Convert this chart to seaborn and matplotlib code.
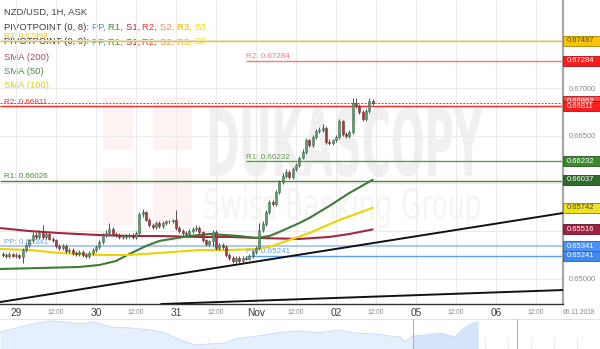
import matplotlib
matplotlib.use("Agg")
import numpy as np
import pandas as pd
import matplotlib.pyplot as plt
import seaborn as sns
from matplotlib.patches import Rectangle, PathPatch
from matplotlib.textpath import TextPath
from matplotlib.font_manager import FontProperties
from matplotlib.transforms import Affine2D, blended_transform_factory

# ---------------- data ----------------
bar_start = -4          # hour index of first candle (0 = 29 Oct 00:00)
first_open = 0.6526
close = [
    0.6525, 0.6524, 0.6526, 0.6524, 0.6525, 0.6523, 0.6530, 0.6535, 0.6540, 0.6546,
    0.6544, 0.6548, 0.6544, 0.6547, 0.6542, 0.6540, 0.6534, 0.6532, 0.6534, 0.6529,
    0.6530, 0.6527, 0.6526, 0.6528, 0.6525, 0.6524, 0.6527, 0.6530, 0.6533, 0.6538,
    0.6546, 0.6548, 0.6552, 0.6547, 0.6546, 0.6544, 0.6544, 0.6545, 0.6546, 0.6544,
    0.6548, 0.6568, 0.6570, 0.6562, 0.6556, 0.6554, 0.6558, 0.6555, 0.6558, 0.6560,
    0.6560, 0.6561, 0.6553, 0.6550, 0.6548, 0.6547, 0.6550, 0.6552, 0.6553, 0.6549,
    0.6540, 0.6536, 0.6539, 0.6549, 0.6532, 0.6535, 0.6533, 0.6525, 0.6522, 0.6518,
    0.6522, 0.6518, 0.6522, 0.6521, 0.6524, 0.6528, 0.6532, 0.6551, 0.6557, 0.6570,
    0.6580, 0.6578, 0.6591, 0.6601, 0.6608, 0.6612, 0.6607, 0.6615, 0.6619, 0.6627,
    0.6633, 0.6645, 0.6640, 0.6649, 0.6655, 0.6656, 0.6658, 0.6643, 0.6642, 0.6645,
    0.6649, 0.6665, 0.6652, 0.6650, 0.6654, 0.6684, 0.6681, 0.6675, 0.6667, 0.6676,
    0.6686, 0.6684,
]
high = [
    0.6528, 0.6527, 0.6528, 0.6527, 0.6527, 0.6526, 0.6532, 0.6537, 0.6542, 0.6549,
    0.6549, 0.6551, 0.6556, 0.6549, 0.6549, 0.6544, 0.6542, 0.6536, 0.6536, 0.6536,
    0.6532, 0.6532, 0.6529, 0.6530, 0.6530, 0.6527, 0.6529, 0.6532, 0.6535, 0.6540,
    0.6548, 0.6551, 0.6558, 0.6554, 0.6549, 0.6548, 0.6546, 0.6547, 0.6548, 0.6548,
    0.6550, 0.6570, 0.6573, 0.6571, 0.6564, 0.6558, 0.6560, 0.6560, 0.6560, 0.6562,
    0.6562, 0.6563, 0.6572, 0.6555, 0.6552, 0.6550, 0.6552, 0.6554, 0.6556, 0.6555,
    0.6550, 0.6542, 0.6541, 0.6551, 0.6551, 0.6537, 0.6537, 0.6535, 0.6527, 0.6524,
    0.6524, 0.6524, 0.6524, 0.6524, 0.6526, 0.6530, 0.6534, 0.6558, 0.6560, 0.6572,
    0.6582, 0.6583, 0.6593, 0.6603, 0.6611, 0.6615, 0.6614, 0.6617, 0.6621, 0.6629,
    0.6636, 0.6648, 0.6647, 0.6651, 0.6657, 0.6659, 0.6662, 0.6660, 0.6646, 0.6647,
    0.6651, 0.6667, 0.6666, 0.6654, 0.6656, 0.6690, 0.6690, 0.6683, 0.6677, 0.6678,
    0.6690, 0.6688,
]
low = [
    0.6523, 0.6522, 0.6522, 0.6523, 0.6522, 0.6521, 0.6516, 0.6528, 0.6533, 0.6538,
    0.6542, 0.6542, 0.6542, 0.6542, 0.6540, 0.6538, 0.6532, 0.6530, 0.6530, 0.6527,
    0.6527, 0.6525, 0.6524, 0.6524, 0.6523, 0.6522, 0.6522, 0.6525, 0.6528, 0.6531,
    0.6536, 0.6544, 0.6546, 0.6545, 0.6544, 0.6542, 0.6542, 0.6542, 0.6543, 0.6542,
    0.6542, 0.6546, 0.6565, 0.6560, 0.6554, 0.6552, 0.6552, 0.6553, 0.6553, 0.6556,
    0.6558, 0.6558, 0.6551, 0.6548, 0.6546, 0.6545, 0.6545, 0.6548, 0.6550, 0.6547,
    0.6538, 0.6534, 0.6534, 0.6534, 0.6530, 0.6530, 0.6531, 0.6523, 0.6520, 0.6516,
    0.6516, 0.6516, 0.6516, 0.6519, 0.6519, 0.6522, 0.6526, 0.6530, 0.6549, 0.6555,
    0.6568, 0.6576, 0.6576, 0.6589, 0.6599, 0.6606, 0.6605, 0.6605, 0.6613, 0.6617,
    0.6625, 0.6631, 0.6638, 0.6638, 0.6647, 0.6653, 0.6654, 0.6641, 0.6640, 0.6640,
    0.6643, 0.6647, 0.6650, 0.6648, 0.6648, 0.6652, 0.6679, 0.6673, 0.6665, 0.6665,
    0.6674, 0.6682,
]

sma200_t = [-5, 4, 13, 25, 34, 43, 55, 64, 73, 85, 94, 100, 107]
sma200_v = [0.65531, 0.65499, 0.65478, 0.65457, 0.65447, 0.65447, 0.65437, 0.65437,
            0.65426, 0.65416, 0.65437, 0.65468, 0.65516]
sma50_t = [-5, 7, 19, 25, 30, 34, 39, 43, 52, 58, 67, 72, 76, 79, 85, 88, 94, 100, 107]
sma50_v = [0.65101, 0.65111, 0.65122, 0.65143, 0.65185, 0.65258, 0.65342, 0.65395,
           0.65447, 0.65468, 0.65447, 0.65426, 0.65447, 0.65489, 0.65583, 0.65636,
           0.65762, 0.65898, 0.66037]
sma100_t = [-5, 4, 13, 25, 34, 43, 55, 64, 72, 76, 82, 88, 97, 107]
sma100_v = [0.65311, 0.65300, 0.65269, 0.65248, 0.65248, 0.65269, 0.65300, 0.65300,
            0.65311, 0.65332, 0.65405, 0.65478, 0.65615, 0.65742]

piv_old_names = ["R3", "R2", "R1", "PP"]
piv_old_vals = [0.67498, 0.66811, 0.66026, 0.65341]
piv_new_names = ["R2", "R1", "PP"]
piv_new_vals = [0.67284, 0.66232, 0.65241]
piv_new_start = 69
ask_price = 0.66843

trend_t = [-4.8, 164.1]
trend1_v = [0.64754, 0.65688]
trend2_t = [43.5, 164.1]
trend2_v = [0.64733, 0.64880]

day_ticks = [0, 24, 48, 72, 96, 120, 144]
day_labels = ["29", "30", "31", "Nov", "02", "05", "06"]
half_ticks = [12, 36, 60, 84, 108, 132, 156]
y_ticks = [0.650, 0.655, 0.660, 0.665, 0.670, 0.675]
y_tick_labels = ["0.65000", "", "", "0.66500", "0.67000", ""]   # others hidden by value boxes

nav_pos = [0, 38, 50, 65, 80, 94, 110, 130, 150, 165, 180, 195, 210, 225, 235, 250, 265,
           283, 300, 318, 337, 355, 375, 390, 400, 405, 413, 425, 440, 455, 462, 470, 478]
nav_level = [17, 26, 28, 27, 25, 27, 22, 21, 19, 16, 9, 4, 5, 6, 10, 12, 14, 17, 18, 16,
             19, 16, 15, 13, 12, 7, 13, 14, 16, 12, 19, 25, 27]

# ---------------- figure ----------------
sns.set_theme(style="white")
plt.rcParams['font.family'] = ['Liberation Sans', 'DejaVu Sans']

W, H = 600, 349
fig = plt.figure(figsize=(6, 3.49), dpi=100)
fig.patch.set_facecolor("white")

# background overlay in pixel coordinates (watermark, legend text)
bg = fig.add_axes([0, 0, 1, 1], zorder=0)
bg.set_xlim(0, W)
bg.set_ylim(H, 0)
bg.axis("off")

# faint watermark
bg.add_patch(Rectangle((103, 97), 89, 128, fc="#fdf3f3", ec="none", zorder=0))
bg.add_patch(Rectangle((133, 97), 20, 128, fc="white", ec="none", zorder=0.1))
bg.add_patch(Rectangle((103, 150), 89, 18, fc="white", ec="none", zorder=0.1))


def text_patch(s, x0, x1, ytop, ybot, color, weight="bold"):
    tp = TextPath((0, 0), s, size=100, prop=FontProperties(family="DejaVu Sans", weight=weight))
    bb = tp.get_extents()
    sx = (x1 - x0) / bb.width
    sy = (ybot - ytop) / bb.height
    tr = Affine2D().translate(-bb.x0, -bb.y0).scale(sx, -sy).translate(x0, ybot)
    bg.add_patch(PathPatch(tp, transform=tr + bg.transData, fc=color, ec="none", zorder=0.2))


text_patch("DUKASCOPY", 210, 483, 107, 177, "#f0f0f0")
text_patch("Swiss Banking Group", 205, 480, 187, 228, "#f5f5f5", weight="normal")

# ---------------- main price axes ----------------
ax = fig.add_axes([0, 45 / H, 563 / W, 304 / H], zorder=1)
ax.set_facecolor("none")
ax.set_xlim(-4.8, 164.1)
ax.set_ylim(0.647335, 0.679234)

ax.set_xticks(sorted(day_ticks + half_ticks))
ax.set_xticklabels([])
ax.set_yticks(y_ticks)
ax.yaxis.tick_right()
ax.set_yticklabels(y_tick_labels, fontsize=5.5, color="#8a8a8a")
ax.tick_params(axis="both", length=0, pad=4)
ax.grid(True, color="#ebebeb", lw=0.8)
ax.set_axisbelow(True)
for s in ["left", "top"]:
    ax.spines[s].set_visible(False)
ax.spines["right"].set_color("#a8a8a8")
ax.spines["right"].set_linewidth(1.6)
ax.spines["bottom"].set_color("#333333")
ax.spines["bottom"].set_linewidth(1.0)

# pivot lines
old_cols = {"R3": "#f5c400", "R2": "#ff2626", "R1": "#4d8636", "PP": "#a9c9f5"}
new_cols = {"R2": "#ff7777", "R1": "#5f9a4a", "PP": "#5f9df0"}
xmin, xmax = ax.get_xlim()
for n, v in zip(piv_old_names, piv_old_vals):
    ax.hlines(v, xmin, xmax, color=old_cols[n], lw=1.4 if n == "PP" else 1.0, zorder=2)
    ax.text(xmin + 4 / 3.333, v + 0.00005, f"{n}: {v:.5f}", color=old_cols[n] if n != "PP" else "#6aa3f0",
            fontsize=5.8, va="bottom", ha="left", zorder=2)
for n, v in zip(piv_new_names, piv_new_vals):
    ax.hlines(v, piv_new_start, xmax, color=new_cols[n], lw=1.0, zorder=2)
    ax.text(piv_new_start, v + 0.00005, f"{n}: {v:.5f}", color=new_cols[n],
            fontsize=5.8, va="bottom", ha="left", zorder=2)
ax.axhline(ask_price, color="#ff3030", lw=0.7, ls=(0, (2, 1.5)), zorder=2)

# trend lines
sns.lineplot(x=trend_t, y=trend1_v, ax=ax, color="#111111", lw=1.4, zorder=3)
sns.lineplot(x=trend2_t, y=trend2_v, ax=ax, color="#111111", lw=1.4, zorder=3)

# moving averages
sma_df = pd.concat([
    pd.DataFrame({"t": sma200_t, "v": sma200_v, "s": "SMA (200)"}),
    pd.DataFrame({"t": sma50_t, "v": sma50_v, "s": "SMA (50)"}),
    pd.DataFrame({"t": sma100_t, "v": sma100_v, "s": "SMA (100)"}),
])
sns.lineplot(data=sma_df, x="t", y="v", hue="s", ax=ax, lw=1.5, legend=False, zorder=4,
             palette={"SMA (200)": "#a3283f", "SMA (50)": "#3d7d33", "SMA (100)": "#ecd400"},
             estimator=None, sort=False)

# candles
t = np.arange(bar_start, bar_start + len(close))
c = np.array(close)
o = np.array([first_open] + close[:-1])
hi = np.array(high)
lo = np.array(low)
up = c >= o
ax.vlines(t, lo, hi, color="#505050", lw=0.7, zorder=5)
body_lo = np.minimum(o, c)
body_h = np.maximum(np.abs(c - o), 0.00004)
ax.bar(t[up], body_h[up], bottom=body_lo[up], width=0.66, color="#5c9a6c",
       edgecolor="#3f7050", lw=0.4, zorder=6)
ax.bar(t[~up], body_h[~up], bottom=body_lo[~up], width=0.66, color="#a33c3c",
       edgecolor="#7a2a2a", lw=0.4, zorder=6)
ax.set_xlabel("")
ax.set_ylabel("")

# right price boxes
blend = blended_transform_factory(ax.transAxes, ax.transData)
bh = 10 / 9530
bw = 37 / 563
boxes = [
    (0.67497, "#f6c400", "#a88600", "#4a4a4a"),
    (0.67284, "#ff1c1c", "#b01010", "white"),
    (0.66862, "#ff4a4a", "#b01010", "white"),
    (0.66811, "#ff1c1c", "#b01010", "white"),
    (0.66232, "#3d8a2d", "#245a1a", "white"),
    (0.66037, "#2f6b2a", "#1d4a18", "white"),
    (0.65742, "#efe020", "#8a8000", "#4a4a4a"),
    (0.65516, "#a21f3f", "#6a1028", "white"),
    (0.65341, "#4d8ff2", "#2a60b0", "white"),
    (0.65241, "#4088ee", "#2a60b0", "white"),
]
for v, fc, ec, tc in boxes:
    ax.add_patch(Rectangle((1.0, v - bh / 2), bw, bh, transform=blend, fc=fc, ec=ec,
                           lw=0.6, clip_on=False, zorder=10))
    ax.text(1.0 + 4 / 563, v, f"{v:.5f}", transform=blend, fontsize=5.5, color=tc,
            va="center", ha="left", clip_on=False, zorder=11)

# x labels
xblend = blended_transform_factory(ax.transData, ax.transAxes)
ylab = -9 / 304
for tk, lb in zip(day_ticks, day_labels):
    ax.text(tk, ylab, lb, transform=xblend, fontsize=7.3, color="#404040",
            ha="center", va="center", clip_on=False)
for tk in half_ticks:
    ax.text(tk, ylab, "12:00", transform=xblend, fontsize=4.8, color="#8a8a8a",
            ha="center", va="center", clip_on=False)
bg.text(579, 313, "06.11.2018", fontsize=4.8, color="#8a8a8a", ha="center", va="center")

# ---------------- navigator ----------------
nav = fig.add_axes([0, 0, 1, 30 / H], zorder=1)
nav.set_xlim(0, W)
nav.set_ylim(0, 30)
nav.axis("off")
for gx in range(25, 600, 23):
    nav.vlines(gx, 0, 11, color="#e6e6e6", lw=0.6, zorder=0)
nav.fill_between(nav_pos, 0, nav_level, color="#e6effc", lw=0, zorder=1)
sel = [i for i, p in enumerate(nav_pos) if p >= 413]
nav.fill_between([nav_pos[i] for i in sel], 0, [nav_level[i] for i in sel],
                 color="#d3e3fa", lw=0, zorder=1.5)
sns.lineplot(x=nav_pos, y=nav_level, ax=nav, color="#c8daf5", lw=0.7, zorder=2)
nav.vlines([413, 517], 0, 30, color="#b0b0b0", lw=0.8, zorder=3)
nav.axhline(30, color="#e2e2e2", lw=0.8)
nav.set_xlabel("")
nav.set_ylabel("")

# ---------------- legend text ----------------
fig.canvas.draw()
renderer = fig.canvas.get_renderer()


def width_of(s, fs):
    tt = bg.text(0, 0, s + "|", fontsize=fs)
    w1 = tt.get_window_extent(renderer).width
    tt.remove()
    tt = bg.text(0, 0, "|", fontsize=fs)
    w2 = tt.get_window_extent(renderer).width
    tt.remove()
    return w1 - w2


def colored_line(x, y, parts, fs=6.8):
    prefix = ""
    for s, col in parts:
        bg.text(x + (width_of(prefix, fs) if prefix else 0), y, s, color=col, fontsize=fs,
                va="center", ha="left", zorder=20)
        prefix += s


dark = "#3a3a3a"
piv_parts = [("PP, ", "#4a90e2"), ("R1, ", "#3f8a3f"), ("S1, ", "#b0283c"),
             ("R2, ", "#ff3333"), ("S2, ", "#ff8c3a"), ("R3, ", "#f2b600"), ("S3", "#eedc00")]
bg.text(4, 12, "NZD/USD, 1H, ASK", color="#444444", fontsize=6.8, va="center", ha="left", zorder=20)
colored_line(4, 27, [("PIVOTPOINT (0, 8): ", dark)] + piv_parts)
colored_line(4, 42, [("PIVOTPOINT (0, 9): ", dark)] + piv_parts)
bg.text(4, 57, "SMA (200)", color="#b4465c", fontsize=6.8, va="center", ha="left", zorder=20)
bg.text(4, 72, "SMA (50)", color="#4a8a4a", fontsize=6.8, va="center", ha="left", zorder=20)
bg.text(4, 86, "SMA (100)", color="#e6cf00", fontsize=6.8, va="center", ha="left", zorder=20)

fig.savefig("out.png", dpi=100, facecolor="white")
